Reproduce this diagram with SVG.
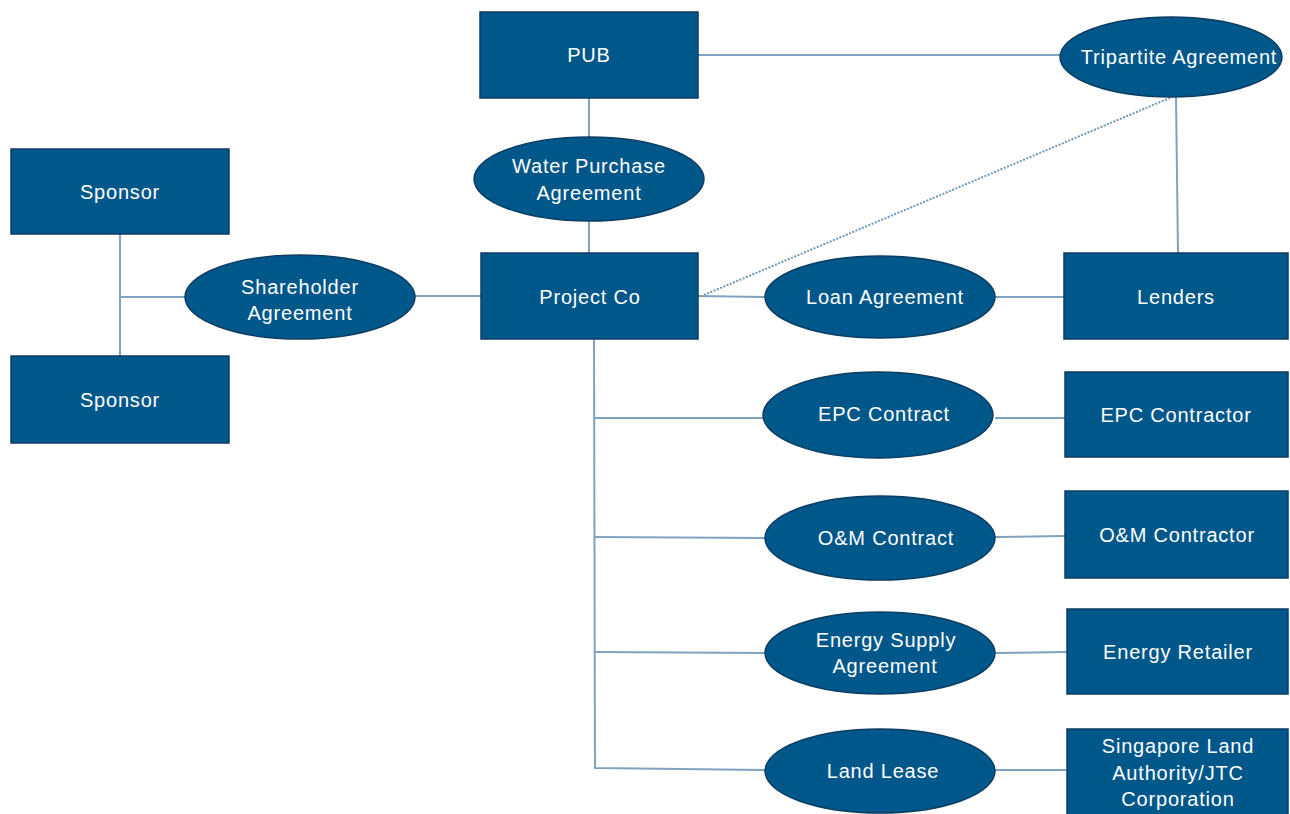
<svg xmlns="http://www.w3.org/2000/svg" width="1290" height="814" viewBox="0 0 1290 814">
<style>
.box{fill:#00578a;stroke:#0c3d63;stroke-width:1.5}
.ell{fill:#00578a;stroke:#0c3d63;stroke-width:1.5}
.t{font-family:"Liberation Sans",Arial,sans-serif;font-size:20px;fill:#ffffff;text-anchor:middle;letter-spacing:0.8px}
.c{stroke:#7fa2bf;stroke-width:2;fill:none}
.d{stroke:#6f96b6;stroke-width:2;fill:none;stroke-dasharray:2 1.5}
</style>
<rect width="1290" height="814" fill="#ffffff"/>
<g id="connectors">
<line class="c" x1="120" y1="234" x2="120" y2="356"/>
<line class="c" x1="120" y1="297" x2="186" y2="297"/>
<line class="c" x1="415" y1="296" x2="481" y2="296"/>
<line class="c" x1="589" y1="98" x2="589" y2="137"/>
<line class="c" x1="589" y1="221" x2="589" y2="253"/>
<line class="c" x1="698" y1="55" x2="1060" y2="55"/>
<line class="d" x1="704" y1="295" x2="1172" y2="97"/>
<line class="c" x1="1176" y1="97" x2="1178" y2="253"/>
<line class="c" x1="698" y1="296" x2="765" y2="297"/>
<line class="c" x1="995" y1="297" x2="1064" y2="297"/>
<polyline class="c" points="594,339 595,768 765,770"/>
<line class="c" x1="594" y1="418" x2="763" y2="418"/>
<line class="c" x1="995" y1="418" x2="1065" y2="418"/>
<line class="c" x1="594" y1="537" x2="765" y2="538"/>
<line class="c" x1="995" y1="537" x2="1065" y2="536"/>
<line class="c" x1="595" y1="652" x2="765" y2="653"/>
<line class="c" x1="995" y1="653" x2="1067" y2="652"/>
<line class="c" x1="995" y1="770" x2="1067" y2="770"/>
</g>
<g id="sponsor1"><rect class="box" x="11" y="149" width="218" height="85"/><text class="t" x="120" y="199">Sponsor</text></g>
<g id="sponsor2"><rect class="box" x="11" y="356" width="218" height="87"/><text class="t" x="120" y="407">Sponsor</text></g>
<g id="shareholder"><ellipse class="ell" cx="300" cy="297" rx="115" ry="42"/><text class="t" x="300" y="294">Shareholder</text><text class="t" x="300" y="320">Agreement</text></g>
<g id="pub"><rect class="box" x="480" y="12" width="218" height="86"/><text class="t" x="589" y="62">PUB</text></g>
<g id="wpa"><ellipse class="ell" cx="589" cy="179" rx="115" ry="42"/><text class="t" x="589" y="173">Water Purchase</text><text class="t" x="589" y="200">Agreement</text></g>
<g id="projectco"><rect class="box" x="481" y="253" width="217" height="86"/><text class="t" x="590" y="304">Project Co</text></g>
<g id="tripartite"><ellipse class="ell" cx="1171" cy="57" rx="111" ry="40"/><text class="t" x="1179" y="64">Tripartite Agreement</text></g>
<g id="lenders"><rect class="box" x="1064" y="253" width="224" height="86"/><text class="t" x="1176" y="304">Lenders</text></g>
<g id="loan"><ellipse class="ell" cx="880" cy="297" rx="115" ry="41"/><text class="t" x="885" y="304">Loan Agreement</text></g>
<g id="epc"><ellipse class="ell" cx="878" cy="415" rx="115" ry="43"/><text class="t" x="884" y="421">EPC Contract</text></g>
<g id="epccontractor"><rect class="box" x="1065" y="372" width="223" height="85"/><text class="t" x="1176" y="422">EPC Contractor</text></g>
<g id="om"><ellipse class="ell" cx="880" cy="538" rx="115" ry="42"/><text class="t" x="886" y="545">O&amp;M Contract</text></g>
<g id="omcontractor"><rect class="box" x="1065" y="491" width="223" height="87"/><text class="t" x="1177" y="542">O&amp;M Contractor</text></g>
<g id="energy"><ellipse class="ell" cx="880" cy="653" rx="115" ry="41"/><text class="t" x="886" y="647">Energy Supply</text><text class="t" x="885" y="673">Agreement</text></g>
<g id="retailer"><rect class="box" x="1067" y="609" width="221" height="85"/><text class="t" x="1178" y="659">Energy Retailer</text></g>
<g id="landlease"><ellipse class="ell" cx="880" cy="771" rx="115" ry="42"/><text class="t" x="883" y="778">Land Lease</text></g>
<g id="sla"><rect class="box" x="1067" y="729" width="221" height="86"/><text class="t" x="1178" y="753">Singapore Land</text><text class="t" x="1178" y="780">Authority/JTC</text><text class="t" x="1178" y="806">Corporation</text></g>
</svg>
